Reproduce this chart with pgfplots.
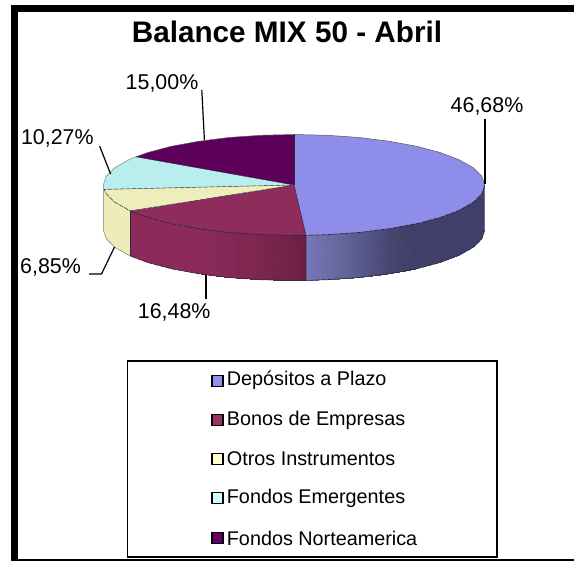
\documentclass[border=0pt]{standalone}
\usepackage{pgfplots}
\usepgfplotslibrary{patchplots}
\pgfplotsset{compat=1.18}
\usepackage{fontspec}
\setmainfont{Liberation Sans}
\definecolor{cB}{HTML}{8E8EEA}
\definecolor{cR}{HTML}{8E2C5C}
\definecolor{cY}{HTML}{EEEEBB}
\definecolor{cC}{HTML}{B9EEEE}
\definecolor{cP}{HTML}{5C005C}
\definecolor{edge}{HTML}{2A2A3A}
\definecolor{wa}{HTML}{3F3F69}
\definecolor{wb}{HTML}{41416A}
\definecolor{wc}{HTML}{46466F}
\definecolor{wd}{HTML}{505080}
\definecolor{we}{HTML}{5A5A8E}
\definecolor{wf}{HTML}{64649C}
\definecolor{wg}{HTML}{6C6CA8}
\definecolor{wh}{HTML}{7878BA}
\definecolor{ra}{HTML}{6B1F42}
\definecolor{rb}{HTML}{702146}
\definecolor{rc}{HTML}{7C264F}
\definecolor{rd}{HTML}{842856}
\definecolor{re}{HTML}{8C2B5B}
\definecolor{ya}{HTML}{ECEDB8}
\definecolor{ka}{HTML}{9090F0}
\definecolor{kb}{HTML}{993366}
\definecolor{kc}{HTML}{FFFFCC}
\definecolor{kd}{HTML}{CCFFFF}
\definecolor{ke}{HTML}{660066}
\tikzset{wall/.style={fill=#1,draw=#1,line width=0.3pt,mark=none},
 top/.style={fill=#1,draw=none,mark=none},
 rim/.style={draw=edge,line width=0.7pt,mark=none,dash pattern=on 5pt off 1pt},
 lead/.style={draw=black,line width=1.2pt,mark=none},
 key/.style={fill=#1,draw=black,line width=1.1pt,mark=none},
 solid block/.style={fill=black,draw=none,mark=none}}
\begin{document}
\begin{tikzpicture}
\begin{axis}[hide axis,scale only axis,width=574pt,height=561pt,
  xmin=0,xmax=574,ymin=0,ymax=561,y dir=reverse,clip=false]
\path[use as bounding box,fill=white] (axis cs:0,0) rectangle (axis cs:574,561);
% frame
\addplot[solid block] coordinates {(11,5) (574,5) (574,11.7) (11,11.7)} -- cycle;
\addplot[solid block] coordinates {(11,5) (17.7,5) (17.7,561) (11,561)} -- cycle;
\addplot[solid block] coordinates {(11,559.5) (574,559.5) (574,561) (11,561)} -- cycle;
% blue wall
\addplot[wall=wa] coordinates {(484.7,185) (481.8,193.8) (473.2,202.3) (459.1,210.3) (440.1,217.5) (416.6,223.7) (416.6,268.7) (440.1,262.5) (459.1,255.3) (473.2,247.3) (481.8,238.8) (484.7,230)} -- cycle;
\addplot[patch,patch type=rectangle,shader=interp,mesh/color input=explicit] table[meta=c] {
x y c
416.6 223.7 color=wa
403.4 226.4 color=wb
403.4 271.4 color=wb
416.6 268.7 color=wa
403.4 226.4 color=wb
389.4 228.7 color=wc
389.4 273.7 color=wc
403.4 271.4 color=wb
389.4 228.7 color=wc
374.6 230.8 color=wd
374.6 275.8 color=wd
389.4 273.7 color=wc
374.6 230.8 color=wd
359.2 232.5 color=we
359.2 277.5 color=we
374.6 275.8 color=wd
359.2 232.5 color=we
343.4 233.8 color=wf
343.4 278.8 color=wf
359.2 277.5 color=we
343.4 233.8 color=wf
327.1 234.7 color=wg
327.1 279.7 color=wg
343.4 278.8 color=wf
327.1 234.7 color=wg
306.0 235.4 color=wh
306.0 280.4 color=wh
327.1 279.7 color=wg
306.0 235.4 color=ra
294.0 235.5 color=rb
294.0 280.5 color=rb
306.0 280.4 color=ra
294.0 235.5 color=rb
260.9 234.7 color=rc
260.9 279.7 color=rc
294.0 280.5 color=rb
260.9 234.7 color=rc
228.8 232.5 color=rd
228.8 277.5 color=rd
260.9 279.7 color=rc
228.8 232.5 color=rd
198.7 228.7 color=re
198.7 273.7 color=re
228.8 277.5 color=rd
};
% red wall, left part
\addplot[wall=re] coordinates {(198.7,228.7) (171.4,223.7) (147.9,217.5) (130.2,210.9) (130.2,255.9) (147.9,262.5) (171.4,268.7) (198.7,273.7)} -- cycle;
% yellow wall
\addplot[wall=ya] coordinates {(130.2,210.9) (114.8,202.3) (106.2,193.8) (103.3,185) (103.3,230) (106.2,238.8) (114.8,247.3) (130.2,255.9)} -- cycle;
% top faces
\addplot[top=cB] coordinates {(294,185) (294,134.5) (327.1,135.3) (359.2,137.5) (389.4,141.3) (416.6,146.3) (440.1,152.5) (459.1,159.8) (473.2,167.7) (481.8,176.2) (484.7,185) (481.8,193.8) (473.2,202.3) (459.1,210.3) (440.1,217.5) (416.6,223.7) (389.4,228.7) (359.2,232.5) (327.1,234.7) (306,235.4)} -- cycle;
\addplot[top=cR] coordinates {(294,185) (306,235.4) (294,235.5) (260.9,234.7) (228.8,232.5) (198.7,228.7) (171.4,223.7) (147.9,217.5) (130.2,210.9)} -- cycle;
\addplot[top=cY] coordinates {(294,185) (130.2,210.9) (114.8,202.3) (106.2,193.8) (104,189.4)} -- cycle;
\addplot[top=cC] coordinates {(294,185) (104,189.4) (103.3,185) (106.2,176.2) (114.8,167.7) (128.9,159.8) (135.9,156.8)} -- cycle;
\addplot[top=cP] coordinates {(294,185) (135.9,156.8) (147.9,152.5) (171.4,146.3) (198.7,141.3) (228.8,137.5) (260.9,135.3) (294,134.5)} -- cycle;
% rims and dividers
\addplot[rim] coordinates {(484.7,185) (481.8,193.8) (473.2,202.3) (459.1,210.3) (440.1,217.5) (416.6,223.7) (389.4,228.7) (359.2,232.5) (327.1,234.7) (306,235.4) (294,235.5) (260.9,234.7) (228.8,232.5) (198.7,228.7) (171.4,223.7) (147.9,217.5) (130.2,210.9)};
\addplot[rim] coordinates {(484.7,230) (481.8,238.8) (473.2,247.3) (459.1,255.3) (440.1,262.5) (416.6,268.7) (389.4,273.7) (359.2,277.5) (327.1,279.7) (306,280.4) (294,280.5) (260.9,279.7) (228.8,277.5) (198.7,273.7) (171.4,268.7) (147.9,262.5) (130.2,255.9)};
\addplot[draw=gray,line width=0.5pt,mark=none] coordinates {(130.2,255.9) (114.8,247.3) (106.2,238.8) (103.3,230) (103.3,185) (106.2,176.2) (114.8,167.7) (128.9,159.8) (135.9,156.8)};
\addplot[draw=gray!70!black,line width=0.5pt,mark=none] coordinates {(135.9,156.8) (147.9,152.5) (171.4,146.3) (198.7,141.3) (228.8,137.5) (260.9,135.3) (294,134.5) (327.1,135.3) (359.2,137.5) (389.4,141.3) (416.6,146.3) (440.1,152.5) (459.1,159.8) (473.2,167.7) (481.8,176.2) (484.7,185)};
\addplot[draw=edge,line width=0.5pt,mark=none] coordinates {(294,185) (306,235.4) (306,280.4)};
\addplot[draw=edge,line width=0.5pt,mark=none] coordinates {(130.2,210.9) (130.2,255.9)};
\addplot[rim,line width=0.5pt] coordinates {(294,185) (130.2,210.9) (114.8,202.3) (106.2,193.8) (104,189.4) (294,185)};
\addplot[draw=edge,line width=0.4pt,mark=none] coordinates {(294,185) (135.9,156.8)};
\addplot[draw=edge,line width=0.4pt,mark=none] coordinates {(294,134.5) (294,185)};
% leaders
\addplot[lead] coordinates {(485,119) (485,184)};
\addplot[lead] coordinates {(201.8,90) (204.4,140)};
\addplot[lead] coordinates {(99.6,146) (110.6,174)};
\addplot[lead] coordinates {(89,274) (101.5,274) (114.5,247)};
\addplot[lead] coordinates {(205.9,275) (205.9,299.3)};
% legend box
\addplot[draw=black,fill=white,line width=1.5pt,mark=none] coordinates {(127.7,361) (497,361) (497,557) (127.7,557)} -- cycle;
\addplot[key=ka] coordinates {(212,375.2) (223,375.2) (223,386.2) (212,386.2)} -- cycle;
\addplot[key=kb] coordinates {(212,414.5) (223,414.5) (223,425.5) (212,425.5)} -- cycle;
\addplot[key=kc] coordinates {(212,453.5) (223,453.5) (223,464.5) (212,464.5)} -- cycle;
\addplot[key=kd] coordinates {(212,492.8) (223,492.8) (223,503.8) (212,503.8)} -- cycle;
\addplot[key=ke] coordinates {(212,532.5) (223,532.5) (223,543.5) (212,543.5)} -- cycle;
% texts
\node[font=\fontsize{29.7}{32}\selectfont\bfseries] at (axis cs:287,31.7) {Balance MIX 50 - Abril};
\def\lab{\fontsize{21.4}{24}\selectfont}
\node[font=\lab] at (axis cs:487,106.7) {46,68\%};
\node[font=\lab] at (axis cs:162,83) {15,00\%};
\node[font=\lab] at (axis cs:57.3,138) {10,27\%};
\node[font=\lab] at (axis cs:50.5,267) {6,85\%};
\node[font=\lab] at (axis cs:174.2,312.7) {16,48\%};
\def\leg{\fontsize{19.8}{22}\selectfont}
\node[font=\leg,anchor=west,inner sep=0pt] at (axis cs:226.7,380.7) {Depósitos a Plazo};
\node[font=\leg,anchor=west,inner sep=0pt] at (axis cs:226.7,420) {Bonos de Empresas};
\node[font=\leg,anchor=west,inner sep=0pt] at (axis cs:226.7,459) {Otros Instrumentos};
\node[font=\leg,anchor=west,inner sep=0pt] at (axis cs:226.7,498.3) {Fondos Emergentes};
\node[font=\leg,anchor=west,inner sep=0pt] at (axis cs:226.7,538) {Fondos Norteamerica};
\end{axis}
\end{tikzpicture}
\end{document}
